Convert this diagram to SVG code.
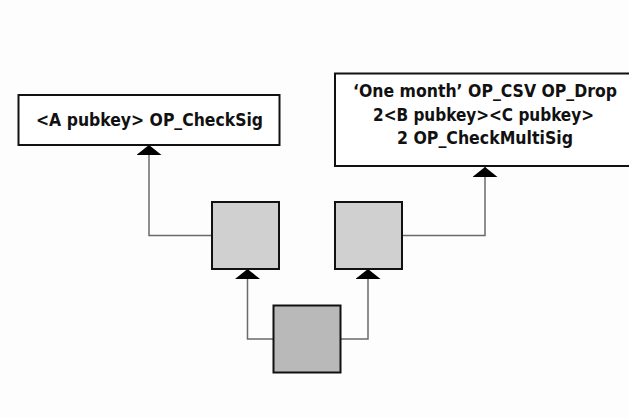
<svg xmlns="http://www.w3.org/2000/svg" width="629" height="418" viewBox="0 0 629 418">
  <style>
    .box { fill: #ffffff; stroke: #111111; stroke-width: 2; }
    .sq { fill: #d0d0d0; stroke: #111111; stroke-width: 2; }
    .sq-dark { fill: #b9b9b9; stroke: #111111; stroke-width: 2; }
    .conn { fill: none; stroke: #6a6a6a; stroke-width: 1.5; marker-end: url(#head); }
    .lbl { font-family: "DejaVu Sans Condensed", "DejaVu Sans", sans-serif; font-weight: bold; font-size: 18px; fill: #111111; text-anchor: middle; }
  </style>
  <defs>
    <marker id="head" viewBox="0 0 10 25" refX="10" refY="12.5" markerWidth="10" markerHeight="25" markerUnits="userSpaceOnUse" orient="auto">
      <path d="M0,0 L10,12.5 L0,25 z" fill="#000000"/>
    </marker>
  </defs>
  <rect width="629" height="418" fill="#fdfdfd"/>

  <g id="connectors">
    <path class="conn" d="M212,235.5 H149 V145"/>
    <path class="conn" d="M402,235.5 H485 V167"/>
    <path class="conn" d="M273,339 H247.5 V269"/>
    <path class="conn" d="M341,339 H368 V269"/>
  </g>

  <g id="script-a">
    <rect class="box" x="18.5" y="95" width="261" height="50"/>
    <text class="lbl" x="149.5" y="126" textLength="227" lengthAdjust="spacingAndGlyphs">&lt;A pubkey&gt; OP_CheckSig</text>
  </g>

  <g id="script-bc">
    <rect class="box" x="335" y="73.5" width="302" height="92.5"/>
    <text class="lbl" x="485" y="97" textLength="264" lengthAdjust="spacingAndGlyphs">‘One month’ OP_CSV OP_Drop</text>
    <text class="lbl" x="483.5" y="120.5" textLength="221" lengthAdjust="spacingAndGlyphs">2&lt;B pubkey&gt;&lt;C pubkey&gt;</text>
    <text class="lbl" x="485" y="143.5" textLength="176" lengthAdjust="spacingAndGlyphs">2 OP_CheckMultiSig</text>
  </g>

  <g id="output-left">
    <rect class="sq" x="212" y="202" width="67" height="67"/>
  </g>

  <g id="output-right">
    <rect class="sq" x="335" y="202" width="67" height="67"/>
  </g>

  <g id="funding">
    <rect class="sq-dark" x="273.5" y="305.5" width="67" height="67"/>
  </g>
</svg>
